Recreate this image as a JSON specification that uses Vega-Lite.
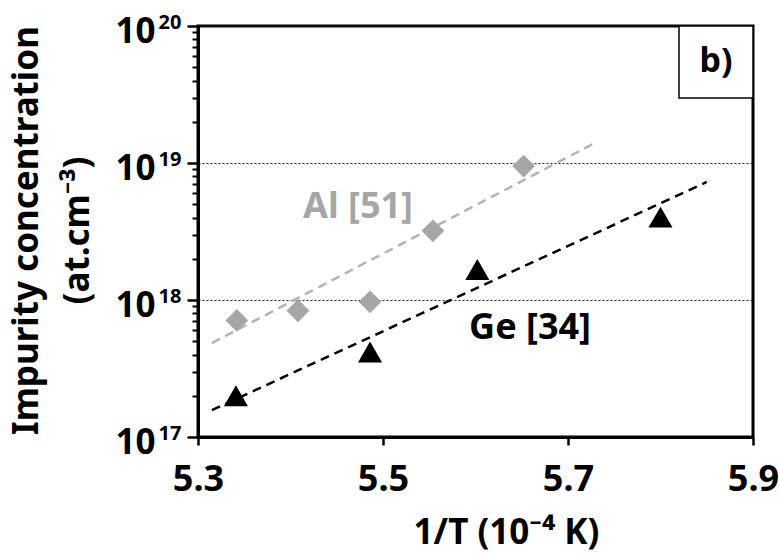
{
  "$schema": "https://vega.github.io/schema/vega-lite/v6.json",
  "width": 555,
  "height": 411,
  "autosize": {"type": "none"},
  "padding": {"left": 198, "top": 26, "right": 26, "bottom": 116},
  "background": "white",
  "config": {
    "view": {"stroke": "black", "strokeWidth": 3},
    "font": "Noto Sans",
    "axis": {
      "labelFont": "Noto Sans", "labelFontWeight": "bold", "labelColor": "black",
      "titleFont": "Noto Sans", "titleFontWeight": "bold", "titleColor": "black",
      "domainColor": "black", "tickColor": "black", "labelFlush": false, "labelOverlap": false
    }
  },
  "data": {
    "values": [
      {"series": "Al", "kind": "data", "x": 5.342, "y": 7.1e17},
      {"series": "Al", "kind": "data", "x": 5.408, "y": 8.35e17},
      {"series": "Al", "kind": "data", "x": 5.486, "y": 9.7e17},
      {"series": "Al", "kind": "data", "x": 5.554, "y": 3.2e18},
      {"series": "Al", "kind": "data", "x": 5.652, "y": 9.5e18},
      {"series": "Ge", "kind": "data", "x": 5.341, "y": 2.0e17},
      {"series": "Ge", "kind": "data", "x": 5.486, "y": 4.17e17},
      {"series": "Ge", "kind": "data", "x": 5.602, "y": 1.67e18},
      {"series": "Ge", "kind": "data", "x": 5.8, "y": 4.03e18},
      {"series": "Al", "kind": "fit", "x": 5.315, "y": 4.85e17},
      {"series": "Al", "kind": "fit", "x": 5.729, "y": 1.4e19},
      {"series": "Ge", "kind": "fit", "x": 5.315, "y": 1.57e17},
      {"series": "Ge", "kind": "fit", "x": 5.85, "y": 7.27e18},
      {"series": "Al", "kind": "label", "x": 5.473, "y": 4.77e18, "text": "Al [51]"},
      {"series": "Ge", "kind": "label", "x": 5.659, "y": 6.25e17, "text": "Ge [34]"},
      {"series": "panel", "kind": "box", "x": 5.82, "x2": 5.9, "y": 2.98e19, "y2": 1e20},
      {"series": "panel", "kind": "paneltext", "x": 5.86, "y": 5.46e19, "text": "b)"}
    ]
  },
  "resolve": {"scale": {"y": "shared"}, "axis": {"y": "independent"}},
  "layer": [
    {
      "transform": [{"filter": "datum.kind === 'fit' && datum.series === 'Al'"}],
      "mark": {"type": "line", "color": "#b3b3b3", "strokeWidth": 2.5, "strokeDash": [9, 6]},
      "encoding": {
        "x": {
          "field": "x", "type": "quantitative",
          "scale": {"domain": [5.3, 5.9], "nice": false, "zero": false},
          "axis": {
            "values": [5.3, 5.5, 5.7, 5.9], "format": ".1f",
            "tickSize": 8, "tickWidth": 2.5, "domainWidth": 3,
            "labelFontSize": 36, "labelBaseline": "alphabetic", "labelPadding": 45, "labelFlush": false,
            "grid": false,
            "title": "1/T (10⁻⁴ K)", "titleFontSize": 35,
            "titleX": 308, "titleY": 106, "titleBaseline": "alphabetic", "titleAnchor": "middle", "titleAlign": "center"
          }
        },
        "y": {
          "field": "y", "type": "quantitative",
          "scale": {"type": "log", "domain": [1e17, 1e20], "nice": false},
          "axis": {
            "orient": "left",
            "values": [1e17, 1e18, 1e19, 1e20],
            "labelExpr": "'10'",
            "tickSize": 11, "tickWidth": 2.5, "domainWidth": 3,
            "labelFontSize": 35, "labelPadding": 32, "labelOffset": 16, "labelBaseline": "alphabetic", "labelFlush": false,
            "grid": true, "gridDash": [2, 2], "gridColor": "#222222", "gridWidth": 1,
            "title": "Impurity concentration", "titleFontSize": 35,
            "titleAngle": 270, "titleX": -161, "titleY": 204, "titleBaseline": "alphabetic", "titleAlign": "center"
          }
        }
      }
    },
    {
      "transform": [{"filter": "datum.kind === 'fit' && datum.series === 'Ge'"}],
      "mark": {"type": "line", "color": "black", "strokeWidth": 2.5, "strokeDash": [9, 6]},
      "encoding": {
        "x": {"field": "x", "type": "quantitative"},
        "y": {
          "field": "y", "type": "quantitative",
          "scale": {"type": "log", "domain": [1e17, 1e20], "nice": false},
          "axis": {
            "orient": "left",
            "values": [2e17, 3e17, 4e17, 5e17, 6e17, 7e17, 8e17, 9e17, 2e18, 3e18, 4e18, 5e18, 6e18, 7e18, 8e18, 9e18, 2e19, 3e19, 4e19, 5e19, 6e19, 7e19, 8e19, 9e19],
            "labels": false, "domain": false, "grid": false,
            "tickSize": 6, "tickWidth": 2,
            "title": "(at.cm⁻³)", "titleFontSize": 35,
            "titleAngle": 270, "titleX": -110, "titleY": 204, "titleBaseline": "alphabetic", "titleAlign": "center"
          }
        }
      }
    },
    {
      "transform": [{"filter": "datum.kind === 'data' && datum.series === 'Al'"}],
      "mark": {"type": "point", "shape": "diamond", "filled": true, "color": "#a6a6a6", "opacity": 1, "size": 520},
      "encoding": {
        "x": {"field": "x", "type": "quantitative"},
        "y": {
          "field": "y", "type": "quantitative",
          "axis": {
            "orient": "left",
            "values": [1e17, 1e18, 1e19, 1e20],
            "labelExpr": "datum.value >= 1e20 ? '20' : datum.value >= 1e19 ? '19' : datum.value >= 1e18 ? '18' : '17'",
            "domain": false, "grid": false, "title": null,
            "tickSize": 11, "tickOpacity": 0,
            "labelFontSize": 20, "labelPadding": 6, "labelOffset": 2, "labelBaseline": "alphabetic", "labelFlush": false
          }
        }
      }
    },
    {
      "transform": [{"filter": "datum.kind === 'data' && datum.series === 'Ge'"}],
      "mark": {"type": "point", "shape": "triangle-up", "filled": true, "color": "black", "opacity": 1, "size": 580},
      "encoding": {
        "x": {"field": "x", "type": "quantitative"},
        "y": {"field": "y", "type": "quantitative", "axis": null}
      }
    },
    {
      "transform": [{"filter": "datum.kind === 'label' && datum.series === 'Al'"}],
      "mark": {"type": "text", "font": "Noto Sans", "fontWeight": "bold", "fontSize": 36, "color": "#a6a6a6", "align": "center", "baseline": "middle"},
      "encoding": {
        "x": {"field": "x", "type": "quantitative"},
        "y": {"field": "y", "type": "quantitative", "axis": null},
        "text": {"field": "text"}
      }
    },
    {
      "transform": [{"filter": "datum.kind === 'label' && datum.series === 'Ge'"}],
      "mark": {"type": "text", "font": "Noto Sans", "fontWeight": "bold", "fontSize": 36, "color": "black", "align": "center", "baseline": "middle"},
      "encoding": {
        "x": {"field": "x", "type": "quantitative"},
        "y": {"field": "y", "type": "quantitative", "axis": null},
        "text": {"field": "text"}
      }
    },
    {
      "transform": [{"filter": "datum.kind === 'box'"}],
      "mark": {"type": "rect", "fill": "white", "stroke": "black", "strokeWidth": 1.5},
      "encoding": {
        "x": {"field": "x", "type": "quantitative"},
        "x2": {"field": "x2"},
        "y": {"field": "y", "type": "quantitative", "axis": null},
        "y2": {"field": "y2"}
      }
    },
    {
      "transform": [{"filter": "datum.kind === 'paneltext'"}],
      "mark": {"type": "text", "font": "Noto Sans", "fontWeight": "bold", "fontSize": 34, "color": "black", "align": "center", "baseline": "middle"},
      "encoding": {
        "x": {"field": "x", "type": "quantitative"},
        "y": {"field": "y", "type": "quantitative", "axis": null},
        "text": {"field": "text"}
      }
    }
  ]
}
